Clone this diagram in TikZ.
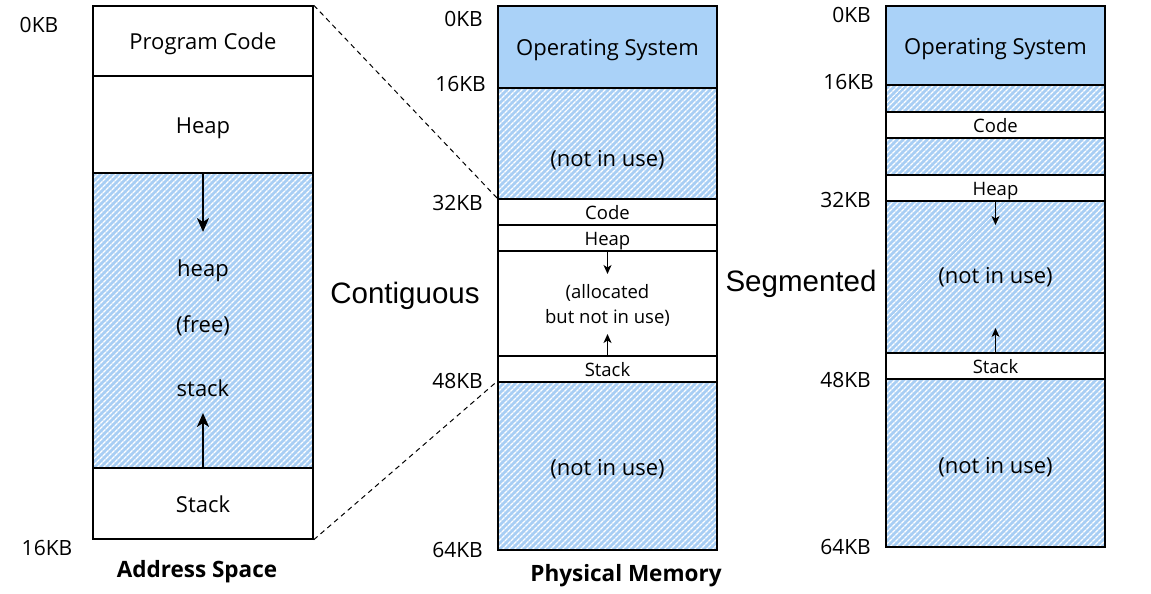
\documentclass[tikz,border=0pt]{standalone}
\usepackage{fontspec}
\setmainfont{Open Sans}
\newfontfamily\arialfont{Liberation Sans}
\usetikzlibrary{patterns.meta,arrows.meta}
\definecolor{osblue}{RGB}{170,210,248}
\definecolor{hatchblue}{RGB}{168,206,244}
\begin{document}
\begin{tikzpicture}[x=1pt,y=-1pt,
  region/.style={draw, line width=1.5pt, inner sep=0pt, minimum width=219pt,
    font=\fontsize{22}{26}\selectfont, text height=18pt, text depth=0pt},
  sregion/.style={region, font=\fontsize{18.5}{22}\selectfont, text height=14pt, text depth=0pt},
  hatch/.style={preaction={fill=hatchblue}, pattern={Lines[angle=45,distance=4pt,line width=1.6pt]}, pattern color=white},
  osfill/.style={fill=osblue},
  bigtext/.style={font=\fontsize{22}{26}\selectfont, inner sep=0pt, text height=16pt, text depth=0pt},
  kb/.style={font=\fontsize{21}{24}\selectfont, inner sep=0pt, text height=15pt, text depth=0pt},
  title/.style={font=\arialfont\fontsize{29.5}{32}\selectfont, inner sep=0pt, text height=21pt, text depth=0pt},
  caption/.style={font=\bfseries\fontsize{22.5}{26}\selectfont, inner sep=0pt, text height=16pt, text depth=0pt},
  bigarr/.style={line width=2pt, -{Stealth[length=14pt,width=12pt,inset=4pt]}},
  smallarr/.style={line width=1.2pt, -{Stealth[length=9pt,width=8pt,inset=2.5pt]}},
  dashline/.style={line width=1pt, dash pattern=on 5pt off 4pt}
]
\useasboundingbox (0,0) rectangle (1151,594);

% ---------- Address space ----------
\node[region,hatch,minimum width=220pt,minimum height=295pt] (lfree) at (203,320.5) {};
\node[region,fill=white,minimum width=220pt,minimum height=70pt] (lcode) at (203,41) {Program Code};
\node[region,fill=white,minimum width=220pt,minimum height=97pt] (lheap) at (203,124.5) {Heap};
\node[region,fill=white,minimum width=220pt,minimum height=71pt] (lstack) at (203,503.5) {Stack};
\node[bigtext] (lt1) at (203,268.5) {heap};
\node[bigtext] (lt2) at (203,324) {(free)};
\node[bigtext] (lt3) at (203,388.5) {stack};
\coordinate (la1) at (203,232);
\coordinate (la2) at (203,413);
\draw[bigarr] (lheap.south) -- (la1);
\draw[bigarr] (lstack.north) -- (la2);
\node[kb] (l0) at (39,25) {0KB};
\node[kb] (l16) at (47,547.5) {16KB};
\node[caption] (lcap) at (197,569) {Address Space};

% ---------- Physical memory (contiguous) ----------
\node[region,osfill,minimum height=82pt] (mos) at (607.5,47) {Operating System};
\node[region,hatch,minimum height=111pt] (mnu1) at (607.5,143.5) {};
\node[bigtext] (mnu1t) at (607.5,158.5) {(not in use)};
\node[sregion,fill=white,minimum height=26pt] (mcode) at (607.5,212) {Code};
\node[sregion,fill=white,minimum height=26pt] (mheap) at (607.5,238) {Heap};
\node[region,fill=white,minimum height=105pt] (malloc) at (607.5,303.5) {};
\node[font=\fontsize{18.5}{25}\selectfont, align=center] (malloct) at (607.5,305) {(allocated\\but not in use)};
\node[sregion,fill=white,minimum height=26pt] (mstack) at (607.5,369) {Stack};
\node[region,hatch,minimum height=168pt] (mnu2) at (607.5,466) {};
\node[bigtext] (mnu2t) at (607.5,467.5) {(not in use)};
\coordinate (ma1) at (607.5,274);
\coordinate (ma2) at (607.5,334);
\draw[smallarr] (mheap.south) -- (ma1);
\draw[smallarr] (mstack.north) -- (ma2);
\node[kb,anchor=east] (m0) at (483,19) {0KB};
\node[kb,anchor=east] (m16) at (486,84) {16KB};
\node[kb,anchor=east] (m32) at (483,202.5) {32KB};
\node[kb,anchor=east] (m48) at (483,380.5) {48KB};
\node[kb,anchor=east] (m64) at (483,549.5) {64KB};
\node[caption] (mcap) at (626,573) {Physical Memory};
\node[title] (cont) at (405,293) {Contiguous};

% ---------- Segmented ----------
\node[region,osfill,minimum height=79pt] (ros) at (995.5,45.5) {Operating System};
\node[region,hatch,minimum height=27pt] (rh1) at (995.5,98.5) {};
\node[sregion,fill=white,minimum height=26pt] (rcode) at (995.5,125) {Code};
\node[region,hatch,minimum height=37pt] (rh2) at (995.5,156.5) {};
\node[sregion,fill=white,minimum height=26pt] (rheap) at (995.5,188) {Heap};
\node[region,hatch,minimum height=152pt] (rnu1) at (995.5,277) {};
\node[bigtext] (rnu1t) at (995.5,275.5) {(not in use)};
\node[sregion,fill=white,minimum height=26pt] (rstack) at (995.5,366) {Stack};
\node[region,hatch,minimum height=168pt] (rnu2) at (995.5,463) {};
\node[bigtext] (rnu2t) at (995.5,465.5) {(not in use)};
\coordinate (ra1) at (995.5,225);
\coordinate (ra2) at (995.5,328);
\draw[smallarr] (rheap.south) -- (ra1);
\draw[smallarr] (rstack.north) -- (ra2);
\node[kb,anchor=east] (r0) at (871,15.5) {0KB};
\node[kb,anchor=east] (r16) at (874,81.5) {16KB};
\node[kb,anchor=east] (r32) at (871,199.5) {32KB};
\node[kb,anchor=east] (r48) at (871,379.5) {48KB};
\node[kb,anchor=east] (r64) at (871,546.5) {64KB};
\node[title] (seg) at (801,281) {Segmented};

% ---------- dashed mapping lines ----------
\draw[dashline] (lcode.north east) -- (mcode.north west);
\draw[dashline] (lstack.south east) -- (mnu2.north west);
\end{tikzpicture}
\end{document}
